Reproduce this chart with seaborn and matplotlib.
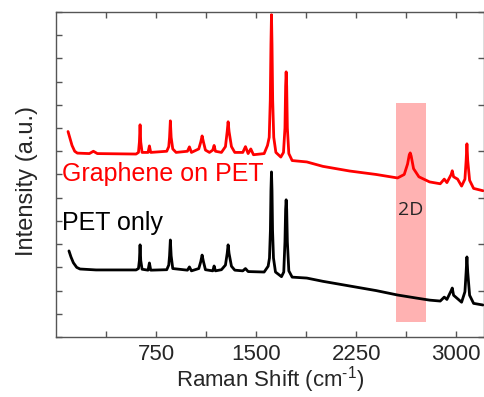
import numpy as np
import pandas as pd
import matplotlib
matplotlib.use("Agg")
import matplotlib.pyplot as plt
import seaborn as sns

# Raman spectra (wavenumber in cm-1, intensity in a.u.)
graphene_shift = [90, 105, 120, 140, 160, 250, 280, 310, 600, 618, 625, 630, 635, 645,
                  690, 700, 710, 830, 845, 851, 857, 863, 875, 900, 985, 1000, 1015,
                  1070, 1085, 1095, 1105, 1120, 1150, 1175, 1185, 1195, 1240, 1270,
                  1283, 1290, 1297, 1315, 1340, 1400, 1420, 1440, 1460, 1480, 1560,
                  1585, 1598, 1606, 1611, 1615, 1619, 1624, 1632, 1648, 1685, 1705,
                  1716, 1721, 1725, 1729, 1734, 1745, 1770, 1880, 2000, 2200, 2400,
                  2560, 2610, 2635, 2648, 2655, 2662, 2680, 2720, 2800, 2880, 2910,
                  2930, 2962, 2970, 2980, 3010, 3040, 3065, 3074, 3080, 3086, 3100,
                  3130, 3200]
graphene_int = [8.85, 8.55, 8.25, 8.0, 7.92, 7.9, 8.0, 7.9, 7.88, 7.95, 8.4, 9.14, 8.4, 7.95,
                7.95, 8.23, 7.95, 8.0, 8.2, 8.6, 9.31, 8.6, 8.1, 7.95, 8.0, 8.19, 7.95,
                8.1, 8.4, 8.66, 8.4, 8.05, 7.95, 8.05, 8.25, 8.0, 7.95, 8.2,
                8.85, 9.27, 8.85, 8.2, 7.95, 7.95, 8.2, 7.9, 8.1, 7.85, 7.9,
                8.25, 8.6, 10.2, 12.6, 13.88, 12.6, 10.2, 8.6, 7.95, 7.75, 7.95,
                9.0, 10.8, 11.42, 10.8, 9.0, 7.9, 7.6, 7.54, 7.35, 7.15, 7.0,
                6.85, 7.0, 7.45, 7.85, 7.93, 7.8, 7.25, 6.9, 6.68, 6.6, 6.8,
                6.65, 7.0, 7.16, 6.9, 6.8, 6.5, 6.8, 7.6, 8.32, 7.6, 6.75,
                6.4, 6.3]

pet_shift = [97, 112, 130, 155, 180, 300, 600, 618, 625, 630, 635, 645, 690, 700, 710,
             830, 845, 851, 857, 863, 875, 985, 1000, 1015, 1070, 1085, 1095, 1105,
             1120, 1175, 1185, 1195, 1240, 1270, 1283, 1290, 1297, 1315, 1340, 1400,
             1420, 1440, 1560, 1590, 1600, 1607, 1611, 1615, 1619, 1623, 1630, 1645,
             1690, 1707, 1716, 1721, 1725, 1729, 1734, 1745, 1770, 1880, 2000, 2200,
             2400, 2560, 2700, 2800, 2880, 2910, 2930, 2962, 2970, 2980, 3040, 3065,
             3074, 3080, 3086, 3100, 3130, 3200]
pet_int = [3.71, 3.45, 3.2, 3.0, 2.93, 2.89, 2.89, 2.95, 3.3, 3.97, 3.3, 2.92, 2.88, 3.19, 2.88,
           2.9, 3.1, 3.5, 4.18, 3.5, 2.95, 2.88, 3.02, 2.85, 2.95, 3.25, 3.53, 3.25,
           2.9, 2.85, 3.06, 2.85, 2.9, 3.1, 3.6, 3.97, 3.6, 3.05, 2.88, 2.85,
           2.95, 2.82, 2.8, 3.05, 3.4, 4.6, 6.3, 7.11, 6.3, 4.6, 3.4, 2.8,
           2.6, 2.8, 4.1, 5.5, 5.91, 5.5, 4.1, 2.85, 2.58, 2.54, 2.4, 2.2,
           2.0, 1.81, 1.68, 1.59, 1.55, 1.72, 1.62, 2.0, 2.11, 1.8, 1.5, 1.95,
           2.8, 3.45, 2.8, 1.8, 1.45, 1.38]

band_2d = (2550, 2775)

df = pd.concat([
    pd.DataFrame({"shift": graphene_shift, "intensity": graphene_int, "sample": "Graphene on PET"}),
    pd.DataFrame({"shift": pet_shift, "intensity": pet_int, "sample": "PET only"}),
])

sns.set_style("ticks")
plt.rcParams["font.family"] = ["Liberation Sans", "DejaVu Sans"]
plt.rcParams["mathtext.fontset"] = "custom"
plt.rcParams["mathtext.rm"] = "Liberation Sans"

fig = plt.figure(figsize=(4.85, 3.97), dpi=100)
ax = fig.add_axes([0.1155, 0.151, 0.883, 0.819])

ax.axvspan(band_2d[0], band_2d[1], ymin=0.045, ymax=0.72, color="#ff7f7f", alpha=0.6, lw=0, zorder=0)

sns.lineplot(data=df, x="shift", y="intensity", hue="sample",
             palette={"Graphene on PET": "red", "PET only": "black"},
             lw=2, legend=False, ax=ax, sort=False, estimator=None)

ax.set_xlim(0, 3210)
ax.set_ylim(0, 14)
ax.set_xticks([750, 1500, 2250, 3000])
ax.set_xticks([375, 1125, 1875, 2625], minor=True)
ax.set_yticks(np.arange(0, 15, 2))
ax.set_yticks(np.arange(1, 14, 2), minor=True)
ax.set_yticklabels([])
ax.tick_params(which="both", direction="in", top=True, right=True, length=4,
               width=1, color="#555555", labelsize=16, pad=5)
ax.tick_params(axis="y", which="minor", right=False)
for s in ax.spines.values():
    s.set_color("#555555")
    s.set_linewidth(1)

ax.set_xlabel("Raman Shift (cm$^{\\mathregular{\u2010}1}$)", fontsize=16, labelpad=-1)
ax.set_ylabel("Intensity (a.u.)", fontsize=17)
ax.yaxis.set_label_coords(-0.043, 0.48)

ax.text(45, 7.0, "Graphene on PET", color="red", fontsize=18, va="center")
ax.text(45, 4.9, "PET only", color="black", fontsize=18, va="center")
ax.text(2662, 5.45, "2D", fontsize=14, ha="center", va="center", family=["Open Sans", "DejaVu Sans"])

fig.savefig("out.png", dpi=100)
